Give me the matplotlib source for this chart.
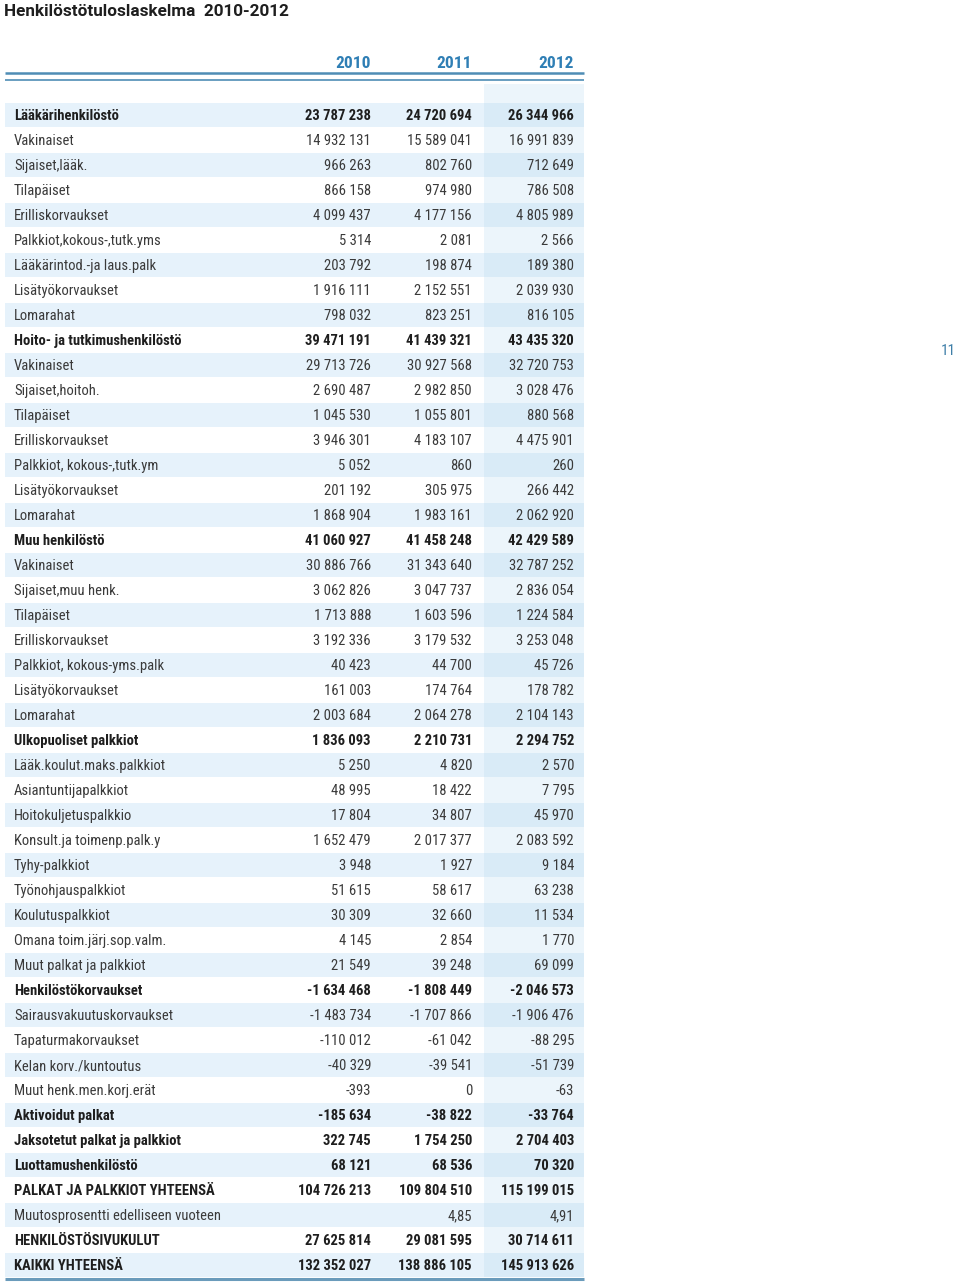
import matplotlib.pyplot as plt
from matplotlib.patches import Rectangle

# --- data -------------------------------------------------------------------
title = 'Henkilöstötuloslaskelma  2010-2012'
years = ['2010', '2011', '2012']
page_no = '11'

labels = [
    'Lääkärihenkilöstö', 'Vakinaiset', 'Sijaiset,lääk.', 'Tilapäiset',
    'Erilliskorvaukset', 'Palkkiot,kokous-,tutk.yms', 'Lääkärintod.-ja laus.palk',
    'Lisätyökorvaukset', 'Lomarahat',
    'Hoito- ja tutkimushenkilöstö', 'Vakinaiset', 'Sijaiset,hoitoh.', 'Tilapäiset',
    'Erilliskorvaukset', 'Palkkiot, kokous-,tutk.ym', 'Lisätyökorvaukset', 'Lomarahat',
    'Muu henkilöstö', 'Vakinaiset', 'Sijaiset,muu henk.', 'Tilapäiset',
    'Erilliskorvaukset', 'Palkkiot, kokous-yms.palk', 'Lisätyökorvaukset', 'Lomarahat',
    'Ulkopuoliset palkkiot', 'Lääk.koulut.maks.palkkiot', 'Asiantuntijapalkkiot',
    'Hoitokuljetuspalkkio', 'Konsult.ja toimenp.palk.y', 'Tyhy-palkkiot',
    'Työnohjauspalkkiot', 'Koulutuspalkkiot', 'Omana toim.järj.sop.valm.',
    'Muut palkat ja palkkiot',
    'Henkilöstökorvaukset', 'Sairausvakuutuskorvaukset', 'Tapaturmakorvaukset',
    'Kelan korv./kuntoutus', 'Muut henk.men.korj.erät',
    'Aktivoidut palkat', 'Jaksotetut palkat ja palkkiot', 'Luottamushenkilöstö',
    'PALKAT JA PALKKIOT YHTEENSÄ', 'Muutosprosentti edelliseen vuoteen',
    'HENKILÖSTÖSIVUKULUT', 'KAIKKI YHTEENSÄ',
]

bold_rows = [0, 9, 17, 25, 35, 40, 41, 42, 43, 45, 46]

v2010 = [23787238, 14932131, 966263, 866158, 4099437, 5314, 203792, 1916111, 798032,
         39471191, 29713726, 2690487, 1045530, 3946301, 5052, 201192, 1868904,
         41060927, 30886766, 3062826, 1713888, 3192336, 40423, 161003, 2003684,
         1836093, 5250, 48995, 17804, 1652479, 3948, 51615, 30309, 4145, 21549,
         -1634468, -1483734, -110012, -40329, -393,
         -185634, 322745, 68121, 104726213, None, 27625814, 132352027]
v2011 = [24720694, 15589041, 802760, 974980, 4177156, 2081, 198874, 2152551, 823251,
         41439321, 30927568, 2982850, 1055801, 4183107, 860, 305975, 1983161,
         41458248, 31343640, 3047737, 1603596, 3179532, 44700, 174764, 2064278,
         2210731, 4820, 18422, 34807, 2017377, 1927, 58617, 32660, 2854, 39248,
         -1808449, -1707866, -61042, -39541, 0,
         -38822, 1754250, 68536, 109804510, 4.85, 29081595, 138886105]
v2012 = [26344966, 16991839, 712649, 786508, 4805989, 2566, 189380, 2039930, 816105,
         43435320, 32720753, 3028476, 880568, 4475901, 260, 266442, 2062920,
         42429589, 32787252, 2836054, 1224584, 3253048, 45726, 178782, 2104143,
         2294752, 2570, 7795, 45970, 2083592, 9184, 63238, 11534, 1770, 69099,
         -2046573, -1906476, -88295, -51739, -63,
         -33764, 2704403, 70320, 115199015, 4.91, 30714611, 145913626]


def fmt(v):
    if v is None:
        return ''
    if isinstance(v, float):
        return f'{v:.2f}'.replace('.', ',')
    return f'{v:,}'.replace(',', ' ')


# --- layout -----------------------------------------------------------------
narrow = ['Roboto Condensed', 'DejaVu Sans']
blue = '#2f7fb5'
line_col = '#4f8db5'
stripe = '#e6f2fb'
col_bg = '#ecf5fb'
col_stripe = '#d9ebf7'

fig = plt.figure(figsize=(9.6, 12.84), dpi=100)
ax = fig.add_axes([0, 0, 1, 1])
ax.set_xlim(0, 960)
ax.set_ylim(1284, 0)
ax.axis('off')

x_left, x_right = 5, 584
x_label = 14
x_cols = [371, 472, 574]
col3_left = 484
y0, dy = 115, 25
n = len(labels)

# highlighted last column
ax.add_patch(Rectangle((col3_left, 84), x_right - col3_left, y0 + dy * (n - 1) + 12 - 84,
                       color=col_bg, lw=0, zorder=0))

for i in range(n):
    y = y0 + i * dy
    if i % 2 == 0:
        ax.add_patch(Rectangle((x_left, y - 12), col3_left - x_left, 24,
                               color=stripe, lw=0, zorder=1))
        ax.add_patch(Rectangle((col3_left, y - 12), x_right - col3_left, 24,
                               color=col_stripe, lw=0, zorder=1))
    b = i in bold_rows
    w = 'bold' if b else 'normal'
    c = '#1e1e1e' if b else '#3a3a3a'
    ax.text(x_label, y + 1.2, labels[i], family=narrow, fontsize=10.5, weight=w,
            color=c, ha='left', va='center', zorder=3)
    for xc, vals in zip(x_cols, [v2010, v2011, v2012]):
        ax.text(xc, y + 1.2, fmt(vals[i]), family=narrow, fontsize=10.5, weight=w,
                color=c, ha='right', va='center', zorder=3)

# header
for xc, yr in zip(x_cols, years):
    ax.text(xc, 64, yr, family=narrow, fontsize=12.5, weight='bold', color=blue,
            ha='right', va='center')
ax.plot([x_left, x_right], [72.5, 72.5], color=line_col, lw=1.8, solid_capstyle='butt')
ax.plot([x_left, x_right], [80, 80], color=line_col, lw=1.2, solid_capstyle='butt')
ax.plot([x_left, x_right], [1278.5, 1278.5], color='#6a9bbb', lw=2.2, solid_capstyle='butt')

ax.text(4, 12, title, family=['Roboto', 'DejaVu Sans'], fontsize=12.3, weight='bold',
        color='#1e1e1e', ha='left', va='center')
ax.text(948, 351, page_no, family=narrow, fontsize=11, color='#3f7fa8',
        ha='center', va='center')

fig.savefig('out.png', dpi=100)
